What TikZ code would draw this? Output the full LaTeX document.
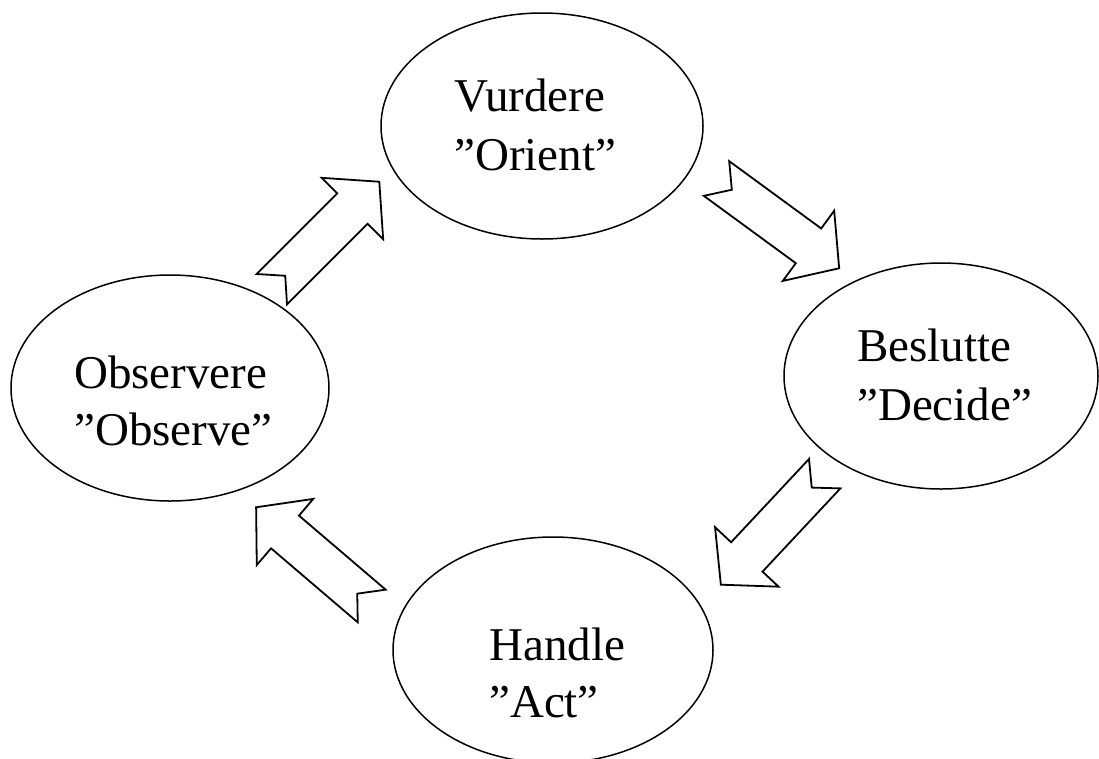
\documentclass[tikz,border=0pt]{standalone}
\usepackage{fontspec}
\setmainfont{Liberation Serif}
\usetikzlibrary{shapes.geometric}
\tikzset{
  ell/.style={draw, ellipse, line width=1.5pt, inner sep=0pt, minimum width=318pt, minimum height=226pt},
  lbl/.style={anchor=base west, inner sep=0pt, font=\fontsize{47}{57}\selectfont},
  arrowline/.style={draw, line width=1.8pt, line join=miter, fill=white},
  notcharrow/.pic={\path[arrowline] (0,21.5) -- (114,21.5) -- (114,43.5) -- (152,0) -- (114,-43.5) -- (114,-21.5) -- (0,-21.5) -- (19,0) -- cycle;}
}
\begin{document}
\begin{tikzpicture}[x=1pt, y=-1pt]
\useasboundingbox[fill=white] (0,0) rectangle (1099,758);
\clip (0,0) rectangle (1099,758);
% ellipses
\node[ell, minimum width=322pt] (orient) at (542,126) {};
\node[ell, minimum width=314pt] (decide) at (941,376) {};
\node[ell, minimum width=318pt] (observe) at (170,388) {};
\node[ell, minimum width=320pt] (act) at (553,650) {};
% labels
\node[lbl] (orient1) at (454,111.7) {Vurdere};
\node[lbl] (orient2) at (454,170) {”Orient”};
\node[lbl] (decide1) at (857,361.7) {Beslutte};
\node[lbl] (decide2) at (857,420) {”Decide”};
\node[lbl] (observe1) at (74,388) {Observere};
\node[lbl] (observe2) at (74,445) {”Observe”};
\node[lbl] (act1) at (489,660) {Handle};
\node[lbl] (act2) at (489,717) {”Act”};
% block arrows
\pic[rotate=45] (arrowOO) at (271.8,289.2) {notcharrow};
\pic[rotate=-36.2] (arrowOD) at (716.5,178.5) {notcharrow};
\pic[rotate=226.9] (arrowDA) at (824.7,473.7) {notcharrow};
\pic[rotate=139.5] (arrowAO) at (371.7,606) {notcharrow};
\end{tikzpicture}
\end{document}
